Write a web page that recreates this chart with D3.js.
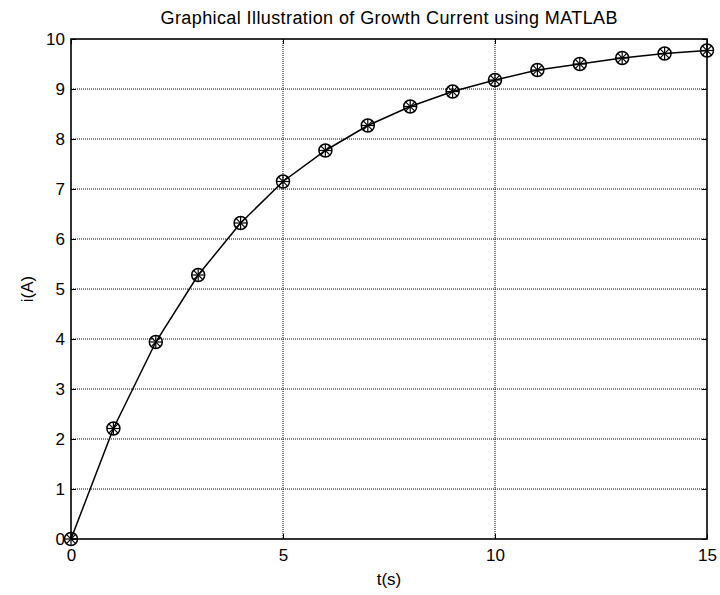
<!DOCTYPE html>
<html>
<head>
<meta charset="utf-8">
<script src="https://cdn.jsdelivr.net/npm/d3@7"></script>
<style>
  body { margin: 0; background: #fff; }
  svg { display: block; font-family: "Liberation Sans", Arial, sans-serif; }
</style>
</head>
<body>
<svg id="chart"></svg>
<script>
const width = 720, height = 595;

// data
const t_values = [0, 1, 2, 3, 4, 5, 6, 7, 8, 9, 10, 11, 12, 13, 14, 15];
const i_values = [0, 2.21, 3.94, 5.28, 6.32, 7.15, 7.77, 8.27, 8.65, 8.95, 9.18, 9.38, 9.50, 9.62, 9.71, 9.77];
const x_ticks = [0, 5, 10, 15];
const y_ticks = [0, 1, 2, 3, 4, 5, 6, 7, 8, 9, 10];

const margin = {left: 71, right: 13, top: 39, bottom: 56};

const svg = d3.select("#chart")
    .attr("width", width)
    .attr("height", height);

const x = d3.scaleLinear().domain([0, 15]).range([margin.left, width - margin.right]);
const y = d3.scaleLinear().domain([0, 10]).range([height - margin.bottom, margin.top]);

// grid lines (dotted)
const grid = svg.append("g").attr("stroke", "#000").attr("stroke-width", 1).attr("stroke-dasharray", "1,1");
grid.selectAll(".gx")
    .data(x_ticks.slice(1, -1))
    .join("line")
    .attr("x1", d => x(d)).attr("x2", d => x(d))
    .attr("y1", y(10)).attr("y2", y(0));
grid.selectAll(".gy")
    .data(y_ticks.slice(1, -1))
    .join("line")
    .attr("x1", x(0)).attr("x2", x(15))
    .attr("y1", d => y(d)).attr("y2", d => y(d));

// axes, ticks inside like matlab
const xAxis = d3.axisBottom(x).tickValues(x_ticks).tickSizeInner(-5).tickSizeOuter(0).tickPadding(10);
const yAxis = d3.axisLeft(y).tickValues(y_ticks).tickSizeInner(-5).tickSizeOuter(0).tickPadding(6);

svg.append("g").attr("transform", `translate(0,${y(0)})`).call(xAxis);
svg.append("g").attr("transform", `translate(${x(0)},0)`).call(yAxis);
// top and right tick marks
svg.append("g").attr("transform", `translate(0,${y(10)})`)
    .call(d3.axisTop(x).tickValues(x_ticks).tickSizeInner(-5).tickSizeOuter(0).tickFormat(""));
svg.append("g").attr("transform", `translate(${x(15)},0)`)
    .call(d3.axisRight(y).tickValues(y_ticks).tickSizeInner(-5).tickSizeOuter(0).tickFormat(""));

svg.selectAll(".domain").remove();
svg.selectAll(".tick line").attr("stroke", "#000");
svg.selectAll(".tick text")
    .attr("fill", "#000")
    .attr("font-size", 17)
    .attr("font-family", "Liberation Sans, Arial, sans-serif");

// box
svg.append("rect")
    .attr("x", x(0)).attr("y", y(10))
    .attr("width", x(15) - x(0)).attr("height", y(0) - y(10))
    .attr("fill", "none")
    .attr("stroke", "#000")
    .attr("stroke-width", 1.6);

// the curve
const data = t_values.map((t, k) => ({t: t, i: i_values[k]}));
const line = d3.line().x(d => x(d.t)).y(d => y(d.i));
svg.append("path")
    .datum(data)
    .attr("d", line)
    .attr("fill", "none")
    .attr("stroke", "#000")
    .attr("stroke-width", 1.5);

// markers: circle with asterisk
const r = 6.5;
const markers = svg.append("g").selectAll("g")
    .data(data)
    .join("g")
    .attr("transform", d => `translate(${x(d.t)},${y(d.i)})`);
markers.append("circle")
    .attr("r", r)
    .attr("fill", "none")
    .attr("stroke", "#000")
    .attr("stroke-width", 1.5);
const spokes = [0, 45, 90, 135];
markers.selectAll("line")
    .data(spokes)
    .join("line")
    .attr("x1", a => -r * Math.cos(a * Math.PI / 180))
    .attr("y1", a => -r * Math.sin(a * Math.PI / 180))
    .attr("x2", a => r * Math.cos(a * Math.PI / 180))
    .attr("y2", a => r * Math.sin(a * Math.PI / 180))
    .attr("stroke", "#000")
    .attr("stroke-width", 1.2);

// labels
svg.append("text")
    .attr("x", (x(0) + x(15)) / 2)
    .attr("y", 24)
    .attr("text-anchor", "middle")
    .attr("font-size", 18)
    .attr("textLength", 457)
    .attr("lengthAdjust", "spacing")
    .text("Graphical Illustration of Growth Current using MATLAB");

svg.append("text")
    .attr("x", (x(0) + x(15)) / 2)
    .attr("y", 585)
    .attr("text-anchor", "middle")
    .attr("font-size", 17)
    .text("t(s)");

svg.append("text")
    .attr("transform", `translate(33,${(y(0) + y(10)) / 2}) rotate(-90)`)
    .attr("text-anchor", "middle")
    .attr("font-size", 17)
    .text("i(A)");
</script>
</body>
</html>
